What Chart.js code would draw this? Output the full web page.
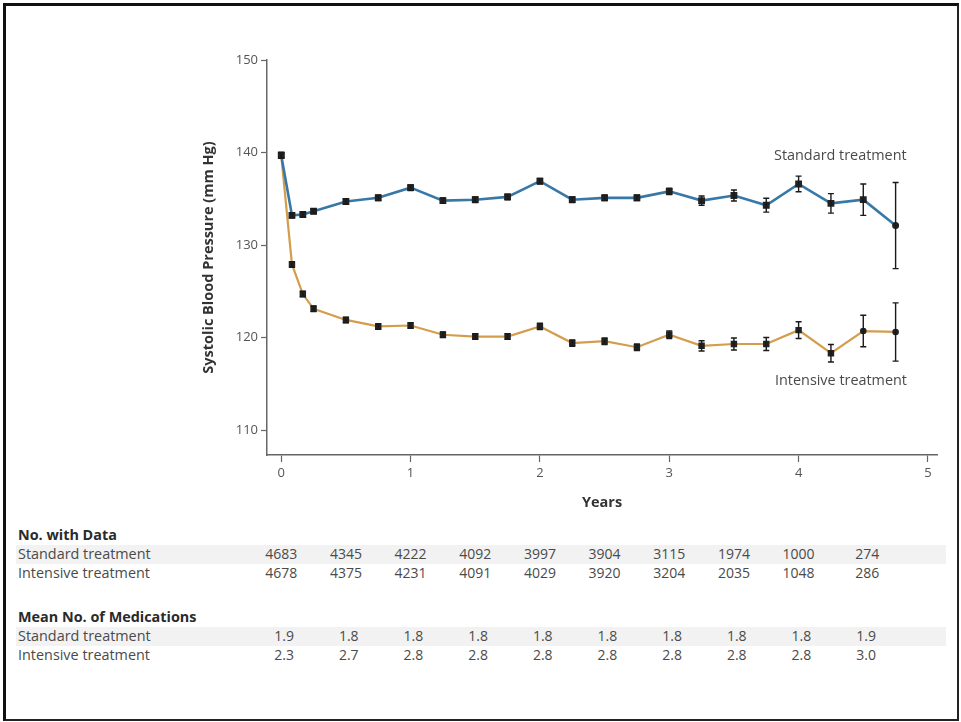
<!DOCTYPE html>
<html>
<head>
<meta charset="utf-8">
<script src="https://cdn.jsdelivr.net/npm/chart.js@4"></script>
<style>
  html, body { margin: 0; padding: 0; background: #fff; }
  #page {
    position: relative; width: 961px; height: 722px; overflow: hidden;
    font-family: "Open Sans", "Noto Sans", sans-serif; color: #444;
  }
  #frame {
    position: absolute; left: 3px; top: 3px; width: 951px; height: 713px;
    border-left: 3px solid #111; border-top: 3px solid #111;
    border-right: 2px solid #222; border-bottom: 2px solid #222;
  }
  #bpChart { position: absolute; left: 0; top: 0; }
  .lbl { position: absolute; font-size: 14.4px; color: #4a4a4a; white-space: nowrap; line-height: 18px; }
  .head { font-weight: bold; color: #2a2a2a; }
  .stripe { position: absolute; left: 16px; width: 930px; height: 19px; background: #f2f2f2; }
  .num { position: absolute; font-size: 14px; color: #4a4a4a; line-height: 18px; white-space: nowrap; }
</style>
</head>
<body>
<div id="page">
  <div id="frame"></div>
  <canvas id="bpChart" width="961" height="520"></canvas>
  <div id="table"></div>
</div>
<script>
// ========== DATA ==========
const years = [0, 0.083, 0.167, 0.25, 0.5, 0.75, 1, 1.25, 1.5, 1.75, 2, 2.25, 2.5, 2.75, 3, 3.25, 3.5, 3.75, 4, 4.25, 4.5, 4.75];
const standardSbp = [139.7, 133.2, 133.3, 133.65, 134.7, 135.1, 136.2, 134.8, 134.9, 135.2, 136.9, 134.9, 135.1, 135.1, 135.8, 134.8, 135.35, 134.3, 136.6, 134.5, 134.9, 132.1];
const standardErr = [0.3, 0.25, 0.25, 0.25, 0.3, 0.3, 0.3, 0.3, 0.3, 0.3, 0.3, 0.3, 0.3, 0.3, 0.35, 0.5, 0.6, 0.75, 0.85, 1.05, 1.7, 4.65];
const intensiveSbp = [139.7, 127.9, 124.7, 123.1, 121.9, 121.2, 121.3, 120.3, 120.1, 120.1, 121.2, 119.4, 119.6, 118.95, 120.3, 119.1, 119.3, 119.3, 120.8, 118.3, 120.7, 120.6];
const intensiveErr = [0.3, 0.3, 0.3, 0.3, 0.3, 0.3, 0.3, 0.3, 0.3, 0.3, 0.35, 0.35, 0.35, 0.35, 0.4, 0.55, 0.65, 0.7, 0.9, 0.95, 1.7, 3.15];

const yTicks = [110, 120, 130, 140, 150];
const xTicks = [0, 1, 2, 3, 4, 5];

const tableYears = [0, 0.5, 1, 1.5, 2, 2.5, 3, 3.5, 4, 4.5];
const nStandard = [4683, 4345, 4222, 4092, 3997, 3904, 3115, 1974, 1000, 274];
const nIntensive = [4678, 4375, 4231, 4091, 4029, 3920, 3204, 2035, 1048, 286];
const medsStandard = ['1.9', '1.8', '1.8', '1.8', '1.8', '1.8', '1.8', '1.8', '1.8', '1.9'];
const medsIntensive = ['2.3', '2.7', '2.8', '2.8', '2.8', '2.8', '2.8', '2.8', '2.8', '3.0'];

const toPoints = (vals) => vals.map((v, i) => ({ x: years[i], y: v }));

// ========== ERROR BARS ==========
const errorBars = {
  id: 'errorBars',
  afterDatasetsDraw(chart) {
    const { ctx, scales: { x, y } } = chart;
    ctx.save();
    ctx.strokeStyle = '#1a1a1a';
    ctx.lineWidth = 1.4;
    chart.data.datasets.forEach((ds) => {
      ds.data.forEach((p, j) => {
        const e = ds.errors[j];
        const px = x.getPixelForValue(p.x);
        const top = y.getPixelForValue(p.y + e);
        const bot = y.getPixelForValue(p.y - e);
        ctx.beginPath();
        ctx.moveTo(px, top); ctx.lineTo(px, bot);
        ctx.moveTo(px - 3, top); ctx.lineTo(px + 3, top);
        ctx.moveTo(px - 3, bot); ctx.lineTo(px + 3, bot);
        ctx.stroke();
      });
    });
    ctx.restore();
  }
};

const axisFont = { family: '"Open Sans", "Noto Sans", sans-serif', size: 13 };
const titleFont = { family: '"Open Sans", "Noto Sans", sans-serif', size: 14.5, weight: 'bold' };

const lastIdx = years.length - 1;

const chart = new Chart(document.getElementById('bpChart').getContext('2d'), {
  type: 'line',
  data: {
    datasets: [
      {
        label: 'Standard treatment',
        data: toPoints(standardSbp),
        errors: standardErr,
        borderColor: '#3878a6',
        borderWidth: 2.6,
        pointStyle: years.map((_, i) => i === lastIdx ? 'circle' : 'rect'),
        pointRadius: years.map((_, i) => i === lastIdx ? 2.2 : 3),
        pointBackgroundColor: '#222',
        pointBorderColor: '#222',
        tension: 0
      },
      {
        label: 'Intensive treatment',
        data: toPoints(intensiveSbp),
        errors: intensiveErr,
        borderColor: '#d49d4c',
        borderWidth: 2.2,
        pointStyle: years.map((_, i) => i >= lastIdx - 1 ? 'circle' : 'rect'),
        pointRadius: years.map((_, i) => i >= lastIdx - 1 ? 2.2 : 3),
        pointBackgroundColor: '#222',
        pointBorderColor: '#222',
        tension: 0
      }
    ]
  },
  options: {
    responsive: false,
    animation: false,
    layout: { padding: { left: 196, right: 24, top: 60, bottom: 2 } },
    plugins: { legend: { display: false }, tooltip: { enabled: false } },
    scales: {
      x: {
        type: 'linear',
        min: -0.11,
        max: 5.07,
        afterBuildTicks: (axis) => { axis.ticks = xTicks.map(v => ({ value: v })); },
        afterFit: (axis) => { axis.height = 63; },
        grid: { drawOnChartArea: false, drawTicks: true, tickLength: 7, tickColor: '#666', tickWidth: 1.2 },
        border: { color: '#666', width: 1.5 },
        ticks: { color: '#555', font: axisFont, padding: 3, maxRotation: 0 },
        title: { display: true, text: 'Years', color: '#333', font: titleFont, padding: { top: 4, bottom: 6 } }
      },
      y: {
        min: 107.3,
        max: 150,
        afterBuildTicks: (axis) => { axis.ticks = yTicks.map(v => ({ value: v })); },
        afterFit: (axis) => { axis.width = 71; },
        grid: { drawOnChartArea: false, drawTicks: true, tickLength: 6, tickColor: '#666', tickWidth: 1.2 },
        border: { color: '#666', width: 1.5 },
        ticks: { color: '#555', font: axisFont, padding: 3 },
        title: { display: true, text: 'Systolic Blood Pressure (mm Hg)', color: '#333', font: titleFont }
      }
    }
  },
  plugins: [errorBars]
});

// ========== LINE LABELS & TABLE ==========
function addText(parent, text, cls, left, top, align) {
  const el = document.createElement('div');
  el.className = cls;
  el.textContent = text;
  el.style.top = top + 'px';
  parent.appendChild(el);
  if (align === 'right') el.style.left = (left - el.offsetWidth) + 'px';
  else if (align === 'center') el.style.left = (left - el.offsetWidth / 2) + 'px';
  else el.style.left = left + 'px';
  return el;
}

function buildTable() {
  const page = document.getElementById('page');
  const table = document.getElementById('table');
  const x = chart.scales.x;

  addText(page, 'Standard treatment', 'lbl', 907, 146, 'right');
  addText(page, 'Intensive treatment', 'lbl', 907, 371, 'right');

  const sections = [
    { title: 'No. with Data', top: 526, rows: [nStandard, nIntensive], decimal: false },
    { title: 'Mean No. of Medications', top: 608, rows: [medsStandard, medsIntensive], decimal: true }
  ];
  const rowNames = ['Standard treatment', 'Intensive treatment'];

  sections.forEach((sec) => {
    const stripe = document.createElement('div');
    stripe.className = 'stripe';
    stripe.style.top = (sec.top + 19) + 'px';
    table.appendChild(stripe);
    addText(table, sec.title, 'lbl head', 18, sec.top, 'left');
    sec.rows.forEach((vals, r) => {
      const rowTop = sec.top + 19 + r * 19;
      addText(table, rowNames[r], 'lbl', 18, rowTop, 'left');
      vals.forEach((v, i) => {
        const px = x.getPixelForValue(tableYears[i]);
        if (sec.decimal) addText(table, v, 'num', px + 3, rowTop, 'center');
        else addText(table, String(v), 'num', px + 16, rowTop, 'right');
      });
    });
  });
}

buildTable();
</script>
</body>
</html>
